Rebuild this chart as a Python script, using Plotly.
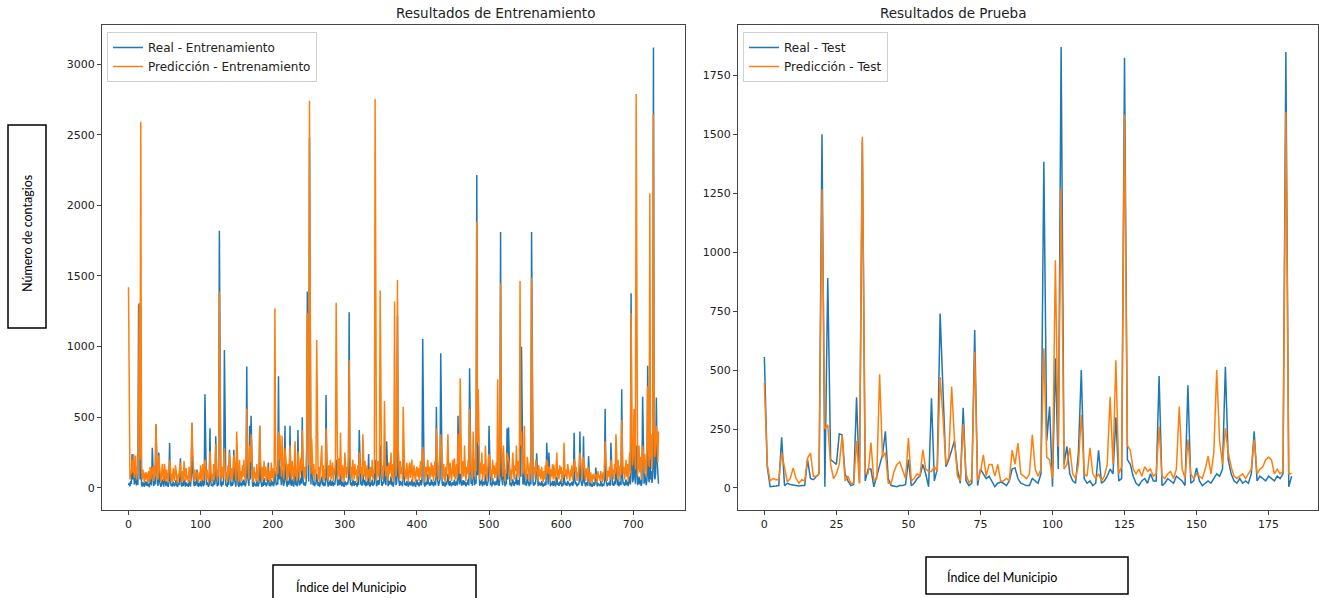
import plotly.graph_objects as go

real_train_txt = """
20 35 12 48 30 240 60 230 25 40 150 18 55 22 1300 1250
60 1280 30 10 40 25 8 45 20 15 50 12 30 5 70 22
18 285 40 12 60 25 450 90 30 15 250 45 20 8 35 60
25 10 90 30 12 50 20 8 40 318 60 15 30 10 45 20
12 30 55 18 8 35 20 70 210 25 10 40 15 60 22 10
40 15 30 8 55 20 10 80 462 120 25 12 45 18 30 130
20 8 35 15 50 10 25 60 12 30 663 90 20 40 15 8
30 422 50 15 25 10 60 20 35 365 80 12 40 18 1820 70
25 10 45 20 60 977 40 15 30 8 50 22 270 35 12 40
15 30 270 60 20 10 180 45 25 8 70 18 35 12 50 20
60 25 12 40 860 90 30 15 440 60 510 35 20 8 45 18
30 10 55 20 12 35 440 60 25 8 40 15 70 22 40 12
25 50 180 15 35 10 60 20 45 12 30 120 70 18 40 25
790 60 150 30 20 130 45 15 35 440 70 25 10 50 20 40
440 30 15 60 25 10 45 120 20 35 12 410 55 18 30 70
30 500 60 20 40 15 35 80 1390 100 45 2480 60 25 200 40
20 50 12 35 25 100 60 15 40 10 30 55 80 20 45 12
35 18 658 70 25 10 45 20 60 15 30 50 12 40 22 65
200 40 15 30 60 20 100 35 12 45 25 8 50 30 18 40
25 60 1243 80 20 40 12 60 30 15 50 22 35 10 45 20
410 60 25 40 15 100 35 20 55 12 30 45 18 240 30 10
40 20 60 15 35 25 200 45 12 30 55 20 40 300 60 25
15 45 30 200 60 20 330 40 12 50 25 35 80 18 45 10
30 300 60 20 45 1220 90 35 15 50 25 40 12 200 55 20
35 15 50 25 10 40 40 18 30 60 12 20 45 25 8 35
60 20 40 12 30 55 18 45 1054 70 25 10 40 20 35 100
25 40 15 30 60 20 45 12 35 50 18 575 80 30 15 40
60 953 90 30 15 45 25 10 40 20 55 100 35 15 50 25
12 35 40 20 60 15 30 45 18 510 70 25 100 40 15 30
55 20 50 35 12 40 25 60 18 847 80 30 45 15 200 40
20 60 30 2215 90 300 40 15 50 25 60 12 35 45 20 100
40 15 30 55 440 60 20 35 12 70 25 45 18 30 50 20
200 40 15 60 1812 90 30 20 200 45 12 35 25 420 60 430
50 20 35 12 40 60 25 15 45 30 100 20 55 35 18 300
80 1000 60 25 40 150 20 35 15 100 45 30 12 50 25 1812
90 35 15 40 25 60 245 30 12 45 20 35 15 50 25 10
30 15 45 20 320 60 25 250 40 12 35 20 50 15 50 25
12 40 80 20 35 15 45 25 60 10 30 18 100 40 20 35
15 50 40 25 12 35 20 45 15 30 390 60 25 40 12 30
20 45 400 60 25 15 35 365 50 20 12 40 25 15 225 30
12 35 20 8 25 40 15 30 145 20 10 35 18 25 12 50
20 10 30 15 40 560 60 25 12 35 20 45 15 320 30 20
35 15 50 25 150 40 20 60 12 30 45 20 698 80 25 40
15 30 60 20 45 12 35 80 25 1378 150 40 60 500 90 30
300 50 20 40 80 25 60 15 35 646 70 30 100 45 20 60
865 90 40 400 60 120 35 80 3116 150 60 100 640 200 50 30
"""

pred_train_txt = """
1420 80 60 120 95 200 110 240 70 130 230 60 140 90 1300 1310
200 2590 150 60 130 70 40 110 55 110 90 40 120 35 150 60
90 150 100 50 160 80 450 200 70 60 230 150 60 40 110 170
70 50 170 90 45 130 60 40 120 200 150 50 100 40 140 60
50 160 130 60 30 100 70 150 180 80 40 120 50 190 80 45
140 60 90 35 150 70 40 200 460 250 80 50 130 60 100 110
70 40 110 60 160 50 90 170 50 120 200 150 60 130 60 35
90 260 140 50 100 40 170 70 110 310 180 60 130 80 1390 200
90 50 150 70 180 280 120 60 110 40 160 80 250 130 50 140
60 110 230 190 70 50 400 140 90 40 200 60 120 50 160 80
200 90 50 140 560 220 100 60 300 180 380 130 80 40 150 70
110 45 170 80 50 130 440 200 90 40 150 60 190 80 150 50
90 160 60 60 120 40 180 70 140 50 110 1272 210 80 150 100
400 200 375 110 80 370 160 60 130 280 220 90 50 170 80 150
300 120 60 190 100 50 160 330 80 130 50 260 200 70 110 210
120 410 200 80 150 60 130 260 1238 300 160 2740 220 100 350 150
80 170 50 130 100 1047 210 60 150 40 120 190 300 70 160 50
130 70 420 240 100 50 160 80 200 60 120 180 50 140 90 200
1310 160 60 110 210 80 390 140 50 160 100 40 250 120 70 150
100 210 905 260 80 150 50 200 110 60 170 90 130 40 160 80
250 200 100 150 60 380 130 80 190 50 110 160 70 130 120 40
150 80 200 60 130 100 2753 170 50 110 190 80 150 1397 220 100
60 160 120 615 220 80 150 150 50 180 100 130 250 70 170 40
120 1320 230 80 170 1472 300 130 60 190 100 150 50 575 200 80
130 60 180 100 40 150 180 70 120 200 50 120 160 90 40 130
150 80 140 50 110 190 70 160 290 230 100 40 150 80 130 200
100 150 60 120 180 80 160 50 130 190 70 420 260 110 60 150
200 380 280 110 60 170 100 40 150 80 190 380 130 60 180 90
50 130 200 80 210 60 120 170 70 385 240 100 776 160 60 120
190 80 300 130 50 150 100 200 70 560 270 110 160 60 400 150
80 200 120 1885 320 700 150 60 180 100 250 50 130 170 80 300
150 60 120 190 240 210 80 130 50 200 100 160 70 120 180 80
770 150 60 210 1449 320 120 80 300 160 50 130 100 250 200 200
180 80 130 50 150 250 100 60 160 120 300 80 190 130 70 1465
300 400 220 100 150 440 80 130 60 220 170 120 50 180 100 1490
330 140 60 150 100 200 150 110 50 160 80 130 60 150 100 40
120 60 160 80 200 180 100 150 140 50 130 80 170 60 160 100
50 140 250 80 130 60 160 100 150 40 120 70 320 150 80 130
60 170 120 100 50 130 80 160 60 120 200 190 100 150 50 110
80 160 250 200 100 60 130 220 170 80 50 140 100 60 150 110
40 110 70 30 90 100 60 100 100 80 40 120 70 90 50 120
70 40 110 60 130 330 200 100 50 120 80 150 60 200 110 80
130 60 170 100 380 150 80 200 50 120 160 90 480 280 100 150
60 120 200 80 170 50 140 250 100 1236 400 160 220 560 300 130
2788 200 90 150 300 110 220 60 140 300 250 120 240 170 80 210
720 320 150 2085 200 380 130 250 2645 450 220 300 440 350 180 400
"""

real_test_txt = """
555 90 5 8 8 10 215 10 20 15 12 10 8 10 10 120
40 35 50 60 1500 5 890 120 110 100 230 225 60 30 10 15
385 20 1470 30 80 80 5 50 100 140 240 40 10 8 5 10
10 15 120 10 20 40 50 100 60 5 380 30 80 740 400 90
120 160 200 80 20 340 30 10 20 670 10 80 60 40 50 30
5 20 25 20 10 30 80 85 40 20 15 10 10 40 30 20
60 1383 200 345 5 550 80 1870 100 176 60 30 20 150 500 40
20 30 10 20 160 20 30 50 80 60 300 30 40 1825 120 100
50 20 10 30 40 20 60 30 30 475 10 20 40 30 20 50
40 30 10 436 20 30 85 30 10 20 30 20 40 60 50 80
514 120 60 30 20 40 20 30 20 60 240 30 50 40 30 50
40 30 50 40 60 1849 5 50
"""

pred_test_txt = """
445 100 30 40 35 35 150 80 25 40 85 40 20 35 30 127
148 50 50 60 1267 250 268 100 40 60 100 225 30 50 20 20
200 20 1490 60 60 192 30 40 482 130 150 20 20 70 100 110
70 40 212 30 40 60 50 162 80 70 70 90 70 470 300 100
130 430 200 50 30 270 60 20 40 578 30 70 140 50 100 100
50 100 30 30 40 30 160 100 190 60 50 40 60 225 80 50
80 592 130 120 40 966 175 1270 80 100 170 60 40 100 310 60
50 170 60 40 60 30 50 100 387 100 542 60 90 1583 180 160
80 60 80 50 90 70 80 50 60 260 50 40 60 70 40 80
345 80 40 205 60 40 60 50 40 80 135 60 150 500 200 100
253 150 90 50 40 50 60 40 60 80 205 60 80 90 120 130
120 60 80 60 70 1595 60 60
"""

real_train = [int(v) for v in real_train_txt.split()]
pred_train = [int(v) for v in pred_train_txt.split()]
real_test = [int(v) for v in real_test_txt.split()]
pred_test = [int(v) for v in pred_test_txt.split()]
idx_train = list(range(len(real_train)))
idx_test = list(range(len(real_test)))

title_train = "Resultados de Entrenamiento"
title_test = "Resultados de Prueba"
ylabel = "Número de contagios"
xlabel = "Índice del Municipio"

BLUE = "#1f77b4"
ORANGE = "#ff7f0e"
W, H = 1319, 598

def px(x):
    return x / W

def py(y):
    return 1 - y / H

fig = go.Figure()
fig.add_trace(go.Scatter(x=idx_train, y=real_train, mode="lines", name="Real - Entrenamiento",
                         line=dict(color=BLUE, width=1.5), xaxis="x", yaxis="y", legend="legend"))
fig.add_trace(go.Scatter(x=idx_train, y=pred_train, mode="lines", name="Predicción - Entrenamiento",
                         line=dict(color=ORANGE, width=1.5), xaxis="x", yaxis="y", legend="legend"))
fig.add_trace(go.Scatter(x=idx_test, y=real_test, mode="lines", name="Real - Test",
                         line=dict(color=BLUE, width=1.5), xaxis="x2", yaxis="y2", legend="legend2"))
fig.add_trace(go.Scatter(x=idx_test, y=pred_test, mode="lines", name="Predicción - Test",
                         line=dict(color=ORANGE, width=1.5), xaxis="x2", yaxis="y2", legend="legend2"))

axis_common = dict(showgrid=False, zeroline=False, showline=True, mirror=True,
                   linecolor="#444", linewidth=1, ticks="outside", ticklen=4,
                   tickcolor="#444", tickfont=dict(family="DejaVu Sans", size=11, color="#222"))

legend_common = dict(xanchor="left", yanchor="top", bgcolor="rgba(255,255,255,0.85)",
                     bordercolor="#d0d0d0", borderwidth=1, itemwidth=30, tracegroupgap=0,
                     font=dict(family="DejaVu Sans", size=12, color="#222"))

ydom = [py(510), py(25)]
fig.update_layout(
    width=W, height=H, margin=dict(l=0, r=0, t=0, b=0),
    paper_bgcolor="white", plot_bgcolor="white",
    xaxis=dict(domain=[px(102), px(685)], range=[-36.75, 771.75], tickvals=[0, 100, 200, 300, 400, 500, 600, 700], anchor="y", **axis_common),
    yaxis=dict(domain=ydom, range=[-156, 3276], tickvals=[0, 500, 1000, 1500, 2000, 2500, 3000], anchor="x", **axis_common),
    xaxis2=dict(domain=[px(738), px(1318)], range=[-9.15, 192.15], tickvals=[0, 25, 50, 75, 100, 125, 150, 175], anchor="y2", **axis_common),
    yaxis2=dict(domain=ydom, range=[-93.5, 1963.5], tickvals=[0, 250, 500, 750, 1000, 1250, 1500, 1750], anchor="x2", **axis_common),
    legend=dict(x=px(107), y=py(32), **legend_common),
    legend2=dict(x=px(743), y=py(32), **legend_common),
    showlegend=True,
)

annotations = [
    dict(text=title_train, x=px(393.5), y=py(13), xref="paper", yref="paper", showarrow=False,
         yanchor="middle", font=dict(family="DejaVu Sans", size=13.5, color="#222")),
    dict(text=title_test, x=px(1028), y=py(13), xref="paper", yref="paper", showarrow=False,
         yanchor="middle", font=dict(family="DejaVu Sans", size=13.5, color="#222")),
    dict(text=ylabel, x=px(28), y=py(234), xref="paper", yref="paper", showarrow=False, textangle=-90,
         xanchor="center", yanchor="middle", font=dict(family="Lato", size=12.5, color="#000")),
    dict(text=xlabel, x=px(294), y=py(587), xref="paper", yref="paper", showarrow=False, xanchor="left",
         yanchor="middle", font=dict(family="Lato", size=12.5, color="#000")),
    dict(text=xlabel, x=px(945), y=py(577), xref="paper", yref="paper", showarrow=False, xanchor="left",
         yanchor="middle", font=dict(family="Lato", size=12.5, color="#000")),
]
fig.update_layout(annotations=annotations)

shapes = [
    dict(type="rect", xref="paper", yref="paper", x0=px(8), x1=px(46), y0=py(328), y1=py(125),
         line=dict(color="black", width=1.5)),
    dict(type="rect", xref="paper", yref="paper", x0=px(273), x1=px(476), y0=py(604), y1=py(565),
         line=dict(color="black", width=1.5)),
    dict(type="rect", xref="paper", yref="paper", x0=px(926), x1=px(1128), y0=py(594), y1=py(557),
         line=dict(color="black", width=1.5)),
]
fig.update_layout(shapes=shapes)

fig.write_html("out.html", config={"displayModeBar": False},
               post_script="document.body.style.margin='0';document.body.style.overflow='hidden';")
